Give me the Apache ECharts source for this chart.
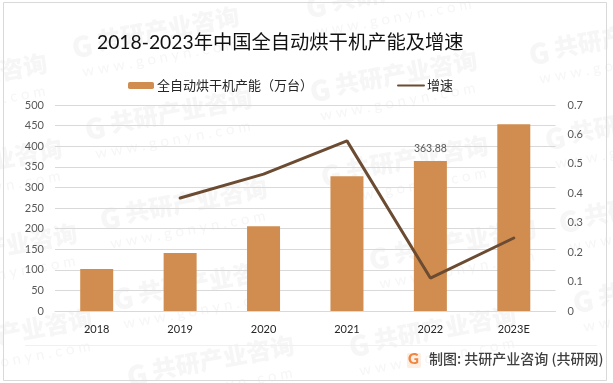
<!DOCTYPE html>
<html>
<head>
<meta charset="utf-8">
<style>
  html, body { margin: 0; padding: 0; background: #fff; }
  #main { width: 613px; height: 383px; }
</style>
<script src="https://cdn.jsdelivr.net/npm/echarts@6/dist/echarts.min.js"></script>
</head>
<body>
<div id="main"></div>
<script>
var categories = ['2018', '2019', '2020', '2021', '2022', '2023E'];
var capacity = [102, 141, 206, 327, 363.88, 453];
var growth = [null, 0.384, 0.465, 0.578, 0.112, 0.248];
var capacityTicks = [0, 500, 50];
var growthTicks = [0, 0.7, 0.1];
var labelledYear = '2022';

var FONT = 'Lato, "Noto Sans CJK SC", sans-serif';
var MARK = '#f6f6f6';

// 水印位置
var marks = [
  [-120, 95], [-105, 180], [-90, 265], [-75, 350],
  [72, 48], [85, 130], [100, 220], [113, 300], [127, 377],
  [306, 8], [310, 92], [321, 177], [369, 260], [349, 347],
  [529, 55], [545, 140], [559, 223], [573, 303]
];

function watermark(p) {
  return {
    type: 'group',
    x: p[0],
    y: p[1],
    rotation: 0.18,
    silent: true,
    children: [
      { type: 'text', x: 0, y: -14, style: { text: 'G', font: '900 28px "Noto Sans CJK SC"', fill: MARK } },
      { type: 'text', x: 26, y: -14, style: { text: '共研产业咨询', font: '900 24px "Noto Sans CJK SC"', fill: MARK } },
      { type: 'text', x: 6, y: 18, style: { text: 'w w w . g o n y n . c o m', font: '15px Lato', fill: MARK } }
    ]
  };
}

var graphics = marks.map(watermark);

// 外框和底部
graphics.push({
  type: 'rect', silent: true,
  shape: { x: 3.5, y: 2.5, width: 603, height: 378 },
  style: { fill: 'none', stroke: '#d9d9d9', lineWidth: 1 }
});
graphics.push({
  type: 'line', silent: true,
  shape: { x1: 25, y1: 345.5, x2: 597, y2: 345.5 },
  style: { stroke: '#f0f0f0', lineWidth: 1 }
});
graphics.push({
  type: 'rect', silent: true,
  shape: { x: 407, y: 353, width: 14, height: 15, r: 2 },
  style: { fill: '#fdeee3' }
});
graphics.push({
  type: 'text', silent: true, x: 408, y: 352,
  style: { text: 'G', font: '900 15px Lato', fill: '#f0853f' }
});
graphics.push({
  type: 'text', silent: true, x: 429, y: 352,
  style: { text: '制图: 共研产业咨询 (共研网)', font: '500 14px "Noto Sans CJK SC"', fill: '#404040' }
});

var option = {
  animation: false,
  backgroundColor: '#fff',
  textStyle: { fontFamily: FONT },
  title: {
    text: '2018-2023年中国全自动烘干机产能及增速',
    left: 97,
    top: 33,
    padding: 0,
    textStyle: { fontFamily: FONT, fontSize: 19.3, fontWeight: 'normal', color: '#111' }
  },
  legend: {
    left: 128,
    top: 79,
    padding: 0,
    itemWidth: 26,
    itemHeight: 7,
    itemGap: 84,
    textStyle: { fontFamily: FONT, fontSize: 13, color: '#262626', padding: [0, 0, 0, -2] },
    data: ['全自动烘干机产能（万台）', { name: '增速', itemStyle: { opacity: 0 } }]
  },
  grid: { left: 55, right: 57.5, top: 105, height: 206, containLabel: false },
  xAxis: {
    type: 'category',
    data: categories,
    axisTick: { show: false },
    axisLine: { lineStyle: { color: '#d9d9d9', width: 1 } },
    axisLabel: { color: '#262626', fontSize: 11, margin: 13 }
  },
  yAxis: [
    {
      type: 'value',
      min: capacityTicks[0],
      max: capacityTicks[1],
      interval: capacityTicks[2],
      axisLine: { show: false },
      axisTick: { show: false },
      axisLabel: { color: '#595959', fontSize: 11, margin: 11 },
      splitLine: { lineStyle: { color: '#d9d9d9', width: 1 } }
    },
    {
      type: 'value',
      min: growthTicks[0],
      max: growthTicks[1],
      interval: growthTicks[2],
      axisLine: { show: false },
      axisTick: { show: false },
      axisLabel: { color: '#595959', fontSize: 11, margin: 12 },
      splitLine: { show: false }
    }
  ],
  series: [
    {
      name: '全自动烘干机产能（万台）',
      type: 'bar',
      barWidth: 33,
      yAxisIndex: 0,
      itemStyle: { color: '#d18d4f' },
      label: {
        show: true,
        position: 'top',
        distance: 7,
        color: '#595959',
        fontSize: 10.5,
        formatter: function (p) { return p.name === labelledYear ? p.value : ''; }
      },
      data: capacity
    },
    {
      name: '增速',
      type: 'line',
      yAxisIndex: 1,
      symbol: 'none',
      smooth: false,
      lineStyle: { color: '#6b4c32', width: 3, cap: 'round' },
      itemStyle: { color: '#6b4c32' },
      data: growth
    }
  ],
  graphic: graphics
};

var myChart = echarts.init(document.getElementById('main'));
myChart.setOption(option);
</script>
</body>
</html>
